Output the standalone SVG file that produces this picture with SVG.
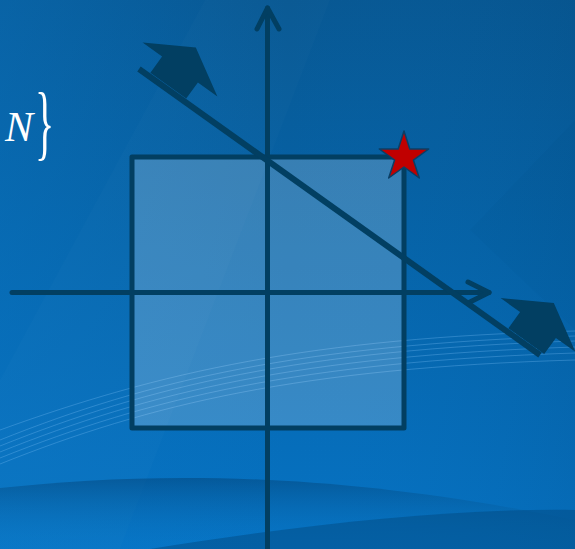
<svg xmlns="http://www.w3.org/2000/svg" width="575" height="549" viewBox="0 0 575 549">
<style>
.ax{fill:none;stroke:#023f62;stroke-width:5;stroke-linecap:round;stroke-linejoin:round}
.ln{fill:none;stroke:#023f62;stroke-width:6;stroke-linecap:butt}
.blk{fill:#023f62}
.sq{fill:#ffffff;fill-opacity:0.2;stroke:#023f62;stroke-width:5;stroke-linejoin:round}
.lbl{font-family:"Liberation Serif","DejaVu Serif",serif;font-style:italic;fill:#ffffff}
.br{font-family:"Liberation Serif","DejaVu Serif",serif;fill:#ffffff}
.stripe{fill:none;stroke:#6fb8f0;stroke-opacity:0.35;stroke-width:1}
</style>
<defs>
<linearGradient id="bg" x1="0" y1="0" x2="0" y2="1">
<stop offset="0" stop-color="#085893"/>
<stop offset="0.45" stop-color="#0664a9"/>
<stop offset="1" stop-color="#0673c4"/>
</linearGradient>
<linearGradient id="bgx" x1="0" y1="0" x2="1" y2="0">
<stop offset="0" stop-color="#0a78c8" stop-opacity="0.35"/>
<stop offset="0.5" stop-color="#0a78c8" stop-opacity="0"/>
<stop offset="1" stop-color="#03467a" stop-opacity="0.15"/>
</linearGradient>
<linearGradient id="dk" x1="0" y1="0" x2="0" y2="1">
<stop offset="0" stop-color="#03467c" stop-opacity="0.55"/>
<stop offset="1" stop-color="#0a7fd0" stop-opacity="0.1"/>
</linearGradient>
<path id="fat" d="M-29.6,3.3 L-17.9,-12.9 L-37.4,-26.9 L15.8,-21.9 L37.4,26.9 L17.9,12.9 L6.2,29.1 Z"/>
</defs>
<g id="background">
<rect width="575" height="549" fill="url(#bg)"/>
<rect width="575" height="549" fill="url(#bgx)"/>
<polygon points="205,0 330,0 120,549 0,549 0,380" fill="#ffffff" fill-opacity="0.015"/>
<polygon points="575,120 575,330 470,230" fill="#000000" fill-opacity="0.015"/>
<path class="stripe" d="M0,440 C150,380 300,345 575,336"/>
<path class="stripe" d="M0,446 C150,386 300,350 575,341"/>
<path class="stripe" d="M0,452 C150,392 300,356 575,347"/>
<path class="stripe" d="M0,458 C150,398 300,362 575,353"/>
<path class="stripe" d="M0,464 C150,404 300,368 575,360"/>
<path class="stripe" d="M0,430 C160,372 310,338 575,331"/>
<path d="M0,488 C150,472 330,470 575,520 L575,549 L0,549 Z" fill="url(#dk)"/>
<path d="M150,549 C300,525 450,508 575,510 L575,549 Z" fill="#03467c" fill-opacity="0.45"/>
</g>
<g id="square">
<rect class="sq" x="132" y="157" width="272" height="271"/>
</g>
<g id="connectors">
<line class="ax" x1="267.5" y1="8" x2="267.5" y2="552"/>
<polyline class="ax" points="257,29 267.5,8 279,29"/>
<line class="ax" x1="12" y1="292.5" x2="489" y2="292.5"/>
<polyline class="ax" points="468,282 489,292.5 468,303"/>
<line class="ln" x1="139" y1="69" x2="540" y2="355"/>
</g>
<g id="normal-top">
<use href="#fat" class="blk" transform="translate(180,69.5)"/>
</g>
<g id="normal-bottom">
<use href="#fat" class="blk" transform="translate(538,325)"/>
</g>
<g id="star">
<polygon points="404,131 409.8,148.9 428.7,149 413.4,160.1 419.3,178 404,167 388.7,178 394.6,160.1 379.3,149 398.2,148.9" fill="#c00000" stroke="#0a3f66" stroke-width="1.5" stroke-linejoin="round"/>
</g>
<g id="label">
<text class="lbl" x="5" y="140.5" font-size="42">N</text>
<text class="br" x="35" y="0" font-size="40" transform="translate(0,149.5) scale(1,2.05)">}</text>
</g>
</svg>
